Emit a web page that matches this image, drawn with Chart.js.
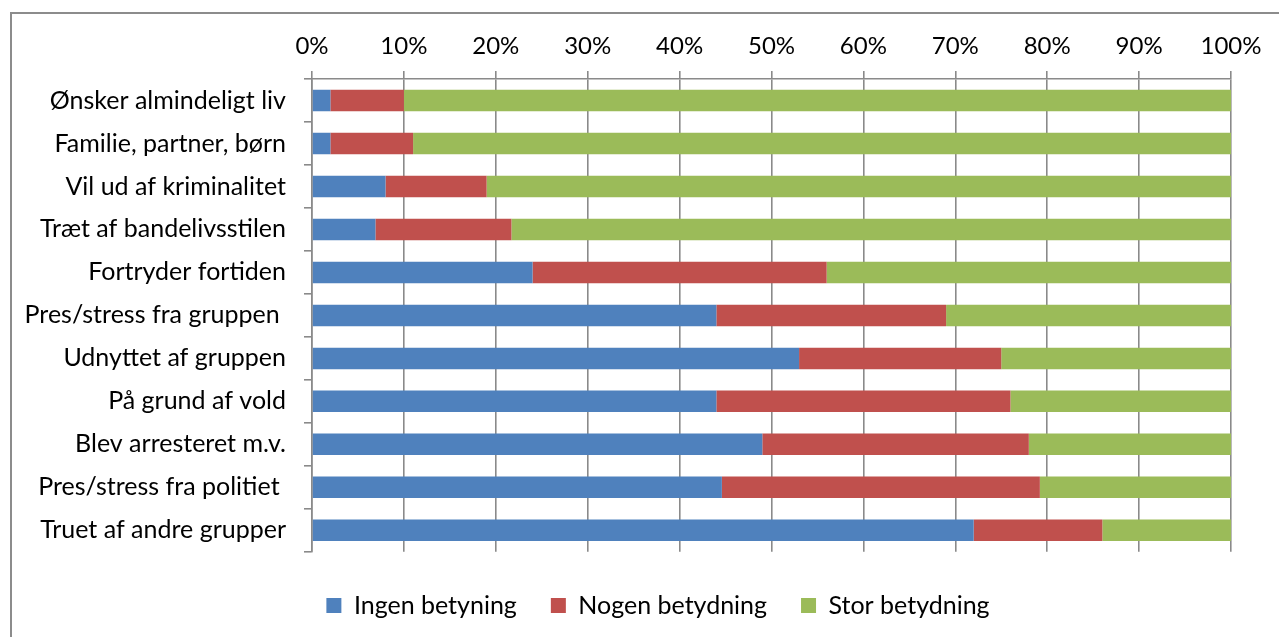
<!DOCTYPE html>
<html>
<head>
<meta charset="utf-8">
<script src="https://cdn.jsdelivr.net/npm/chart.js@4"></script>
<style>
  html, body { margin: 0; padding: 0; background: #fff; overflow: hidden; }
  #ramme {
    position: absolute; left: 10px; top: 12px; width: 1300px; height: 700px;
    border-left: 2px solid #8c8c8c; border-top: 2px solid #8c8c8c;
  }
  #boks { position: absolute; left: 0; top: 0; width: 1279px; height: 637px; }
</style>
</head>
<body>
<div id="ramme"></div>
<div id="boks"><canvas id="grafico"></canvas></div>
<script>
const kategorier = [
  'Ønsker almindeligt liv',
  'Familie, partner, børn',
  'Vil ud af kriminalitet',
  'Træt af bandelivsstilen',
  'Fortryder fortiden',
  'Pres/stress fra gruppen ',
  'Udnyttet af gruppen',
  'På grund af vold',
  'Blev arresteret m.v.',
  'Pres/stress fra politiet ',
  'Truet af andre grupper'
];
const ingen = [2, 2, 8, 6.9, 24, 44, 53, 44, 49, 44.6, 72];
const nogen = [8, 9, 11, 14.8, 32, 25, 22, 32, 29, 34.6, 14];
const stor = [90, 89, 81, 78.3, 44, 31, 25, 24, 22, 20.8, 14];
const serieNavne = ['Ingen betyning', 'Nogen betydning', 'Stor betydning'];
const farver = ['#4F81BD', '#C0504D', '#9BBB59'];

const skrift = { family: 'Lato', size: 25 };
const tickSkrift = { family: 'Lato', size: 24 };
const gra = '#8a8a8a';
const venstre = 85;

const datasets = [ingen, nogen, stor].map((d, i) => ({
  label: serieNavne[i],
  data: d,
  backgroundColor: farver[i],
  borderWidth: 0,
  barPercentage: 0.5,
  categoryPercentage: 1
}));

// y-aksens tekster maa gerne gaa ud over venstre padding
const friTekst = {
  id: 'friTekst',
  afterLayout(chart) {
    chart.scales.y.left = 0;
  }
};

new Chart(document.getElementById('grafico'), {
  type: 'bar',
  data: { labels: kategorier, datasets },
  options: {
    indexAxis: 'y',
    responsive: true,
    maintainAspectRatio: false,
    animation: false,
    layout: { padding: { left: venstre, right: 48, top: 0, bottom: 9 } },
    scales: {
      x: {
        position: 'top',
        stacked: true,
        min: 0,
        max: 100,
        afterFit: s => { s.height = 79; },
        ticks: { stepSize: 10, color: '#000', font: tickSkrift, padding: 10, callback: v => v + '%' },
        grid: { color: gra, lineWidth: 1.6, tickLength: 8 },
        border: { color: gra, width: 1.6 }
      },
      y: {
        stacked: true,
        afterFit: s => { s.width = 312 - venstre; },
        ticks: { color: '#000', font: skrift, padding: 18 },
        grid: { drawOnChartArea: false, color: gra, lineWidth: 1.6, tickLength: 8, offset: true },
        border: { color: gra, width: 1.6 }
      }
    },
    plugins: {
      legend: {
        position: 'bottom',
        title: { display: true, text: '', padding: 3, font: { size: 1 } },
        labels: { color: '#000', font: skrift, boxWidth: 15, boxHeight: 15, padding: 34 }
      },
      tooltip: { enabled: false }
    }
  },
  plugins: [friTekst]
});
</script>
</body>
</html>
